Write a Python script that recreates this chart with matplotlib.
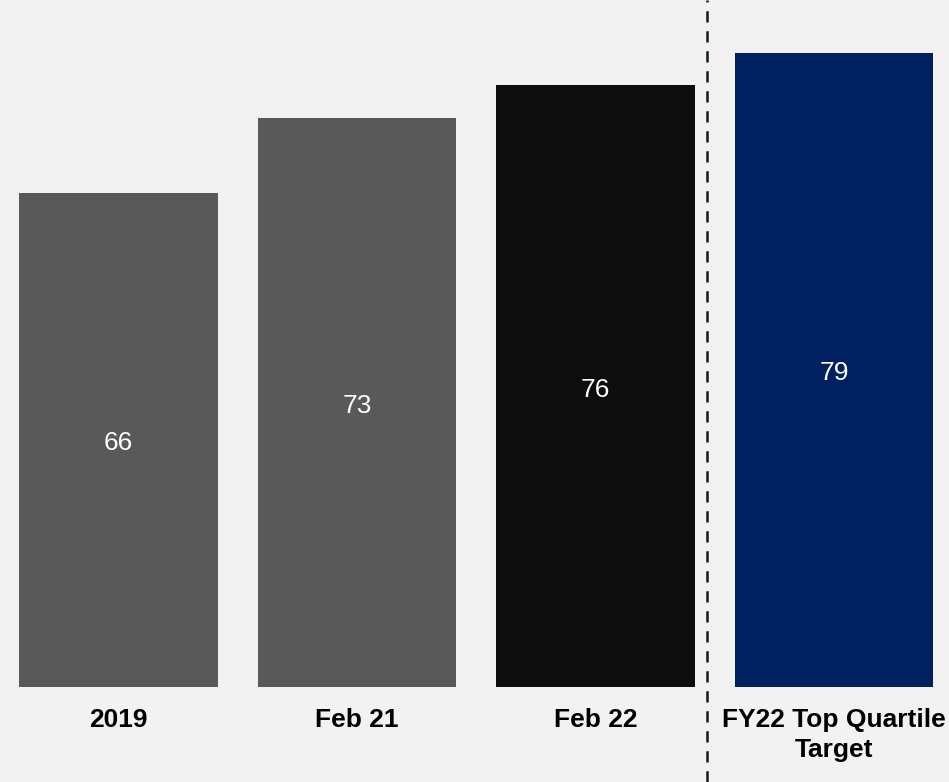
import matplotlib
matplotlib.use("Agg")
import matplotlib.pyplot as plt
from matplotlib.transforms import blended_transform_factory

categories = ["2019", "Feb 21", "Feb 22", "FY22 Top Quartile\nTarget"]
values = [66, 73, 76, 79]
colors = ["#595959", "#595959", "#0d0d0d", "#002060"]

plt.rcParams['font.family'] = ['Liberation Sans', 'DejaVu Sans']

fig = plt.figure(figsize=(9.49, 7.82), dpi=100)
fig.patch.set_facecolor("#f2f2f2")
ax = fig.add_axes([0, 1 - 687 / 782, 1, 687 / 782])
ax.set_facecolor("#f2f2f2")

ymin, ymax = 20.13, 83.92
x = list(range(len(categories)))
bars = ax.bar(x, values, width=0.834, color=colors, bottom=0)
ax.set_ylim(ymin, ymax)
ax.set_xlim(-0.497, 3.482)

for xi, v in zip(x, values):
    ax.annotate(str(v), xy=(xi, (ymin + v) / 2), xytext=(0, -2.5),
                textcoords="offset points", ha="center", va="center",
                color="white", fontsize=19)

ax.set_xticks(x)
ax.set_xticklabels(categories, fontsize=19, fontweight="bold", linespacing=1.3)
ax.tick_params(axis="x", length=0, pad=15)
ax.set_yticks([])
for s in ax.spines.values():
    s.set_visible(False)

trans = blended_transform_factory(ax.transData, fig.transFigure)
ax.plot([2.467, 2.467], [0, 1], transform=trans, clip_on=False,
        color="#1a1a1a", linewidth=1.8, linestyle=(0, (4.5, 3.5)))

fig.savefig("out.png", dpi=100, facecolor=fig.get_facecolor())
